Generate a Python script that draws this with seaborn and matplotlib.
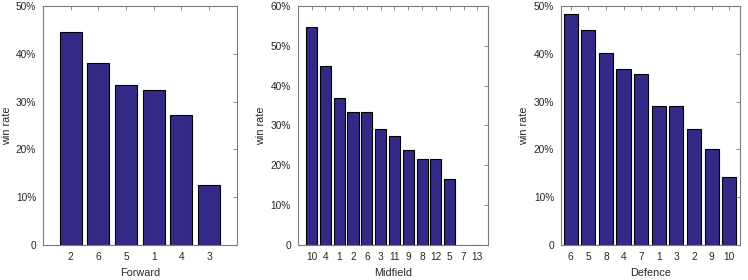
import matplotlib
matplotlib.use("Agg")
import matplotlib.pyplot as plt
import matplotlib.ticker as mticker
import seaborn as sns
import pandas as pd

# win rate per player position group
forward_players = ["2", "6", "5", "1", "4", "3"]
forward_rate = [0.446, 0.380, 0.334, 0.324, 0.271, 0.125]

midfield_players = ["10", "4", "1", "2", "6", "3", "11", "9", "8", "12", "5", "7", "13"]
midfield_rate = [0.547, 0.448, 0.369, 0.334, 0.334, 0.290, 0.273, 0.238, 0.217, 0.217, 0.166, 0.0, 0.0]

defence_players = ["6", "5", "8", "4", "7", "1", "3", "2", "9", "10"]
defence_rate = [0.483, 0.450, 0.401, 0.369, 0.358, 0.290, 0.290, 0.242, 0.200, 0.143]

sns.set_style("white")
plt.rcParams["font.family"] = ["Liberation Sans", "DejaVu Sans"]

BAR_COLOR = "#332a88"
SPINE = "#7a7a7a"

fig = plt.figure(figsize=(7.48, 2.8), dpi=100)

panels = [
    ("Forward", forward_players, forward_rate, [0.0575, 0.125, 0.259, 0.854], 0.5, (-1.0, 6.0)),
    ("Midfield", midfield_players, midfield_rate, [0.398, 0.125, 0.255, 0.854], 0.6, (-1.0, 12.8)),
    ("Defence", defence_players, defence_rate, [0.750, 0.125, 0.239, 0.854], 0.5, (-0.55, 9.6)),
]

for name, players, rates, pos, ymax, xlim in panels:
    ax = fig.add_axes(pos)
    df = pd.DataFrame({"player": players, "rate": rates})
    sns.barplot(data=df, x="player", y="rate", order=players, color=BAR_COLOR,
                saturation=1, edgecolor="black", linewidth=0.8, width=0.8, ax=ax)
    ax.set_xlim(*xlim)
    ax.set_ylim(0, ymax)
    ticks = [i / 10 for i in range(int(round(ymax * 10)) + 1)]
    ax.set_yticks(ticks)
    ax.yaxis.set_major_formatter(mticker.FuncFormatter(
        lambda v, _: "0" if abs(v) < 1e-9 else f"{v * 100:.0f}%"))
    ax.set_xlabel(name, fontsize=7.8, color="#262626", labelpad=4)
    ax.set_ylabel("win rate", fontsize=7.8, color="#262626", labelpad=3)
    ax.tick_params(axis="both", direction="in", length=3, width=0.6,
                   colors=SPINE, labelcolor="#262626", labelsize=7.3,
                   top=True, right=True, pad=5)
    for sp in ax.spines.values():
        sp.set_visible(True)
        sp.set_color(SPINE)
        sp.set_linewidth(0.8)

fig.savefig("out.png", dpi=100)
